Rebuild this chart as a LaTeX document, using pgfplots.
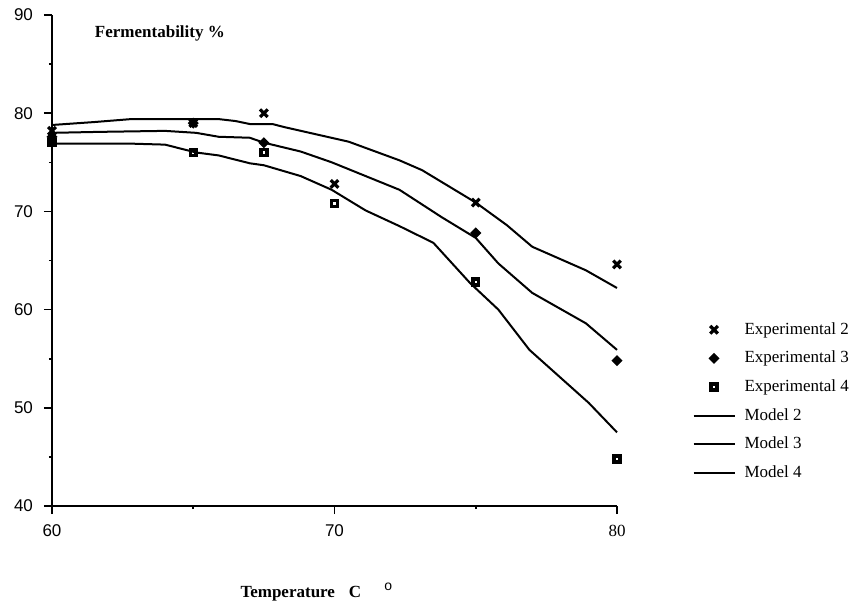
\documentclass[border=0pt]{standalone}
\usepackage{fontspec}
\setmainfont{Liberation Serif}
\setsansfont{Liberation Sans}
\usepackage{pgfplots}
\pgfplotsset{compat=1.18}
\begin{document}
\begin{tikzpicture}
\useasboundingbox (-26pt,-50pt) rectangle (400pt,253pt);
\begin{axis}[
  scale only axis, width=282.5pt, height=245.5pt,
  xmin=60, xmax=80, ymin=40, ymax=90,
  axis lines*=left,
  xtick={60,70,80}, xticklabels={60,70,{\rmfamily 80}},
  minor xtick={65,75},
  ytick={40,50,60,70,80,90}, minor ytick={45,55,65,75,85},
  tick align=outside, major tick length=4pt, minor tick length=1.6pt,
  every tick/.style={black, line width=0.8pt},
  axis line style={line width=0.9pt},
  ticklabel style={font=\sffamily\fontsize{8.5}{10}\selectfont},
  /pgf/number format/assume math mode=true,
  yticklabel style={xshift=-2pt},
  xticklabel style={yshift=-2pt},
  clip=false,
  legend cell align=left,
  legend image code/.code={\draw[mark repeat=2,mark phase=2,#1] plot coordinates {(0pt,0pt) (10.25pt,0pt) (20.5pt,0pt)};},
  legend style={draw=none, fill=none, at={(1.133,0.377)}, anchor=north west,
    font=\fontsize{8.5}{10}\selectfont, inner sep=0pt, row sep=5.8pt,
    nodes={inner sep=0pt, text height=6.5pt, text depth=2pt},
    /tikz/every odd column/.style={column sep=4.5pt}},
]
\addplot[only marks, mark=x, mark size=2.7pt, mark options={line width=1.6pt}] coordinates {
 (60,78.2) (65,79) (67.5,80) (70,72.8) (75,70.9) (80,64.6)};
\addlegendentry{Experimental 2}
\addplot[only marks, mark=square*, mark size=1.65pt, mark options={rotate=45, fill=black, line width=0.6pt}] coordinates {
 (60,77.6) (65,79) (67.5,77) (75,67.8) (80,54.8)};
\addlegendentry{Experimental 3}
\addplot[only marks, mark=square, mark size=1.45pt, mark options={line width=1.8pt}] coordinates {
 (60,77) (65,76) (67.5,76) (70,70.8) (75,62.8) (80,44.8)};
\addlegendentry{Experimental 4}
\addplot[black, line width=1pt] coordinates {
 (60,78.8) (61.5,79.1) (62.8,79.4) (64,79.4) (65.9,79.4) (66.5,79.2) (67,78.9) (67.8,78.9)
 (68.2,78.6) (70.5,77.1) (72.3,75.2) (73.1,74.2) (75,70.9) (76.1,68.6) (77,66.4) (78.9,64.0) (80,62.2)};
\addlegendentry{Model 2}
\addplot[black, line width=1pt] coordinates {
 (60,78.0) (61.7,78.1) (64,78.2) (65.1,78.0) (65.9,77.6) (67,77.5) (67.5,77.0) (68.8,76.1)
 (69.9,75.0) (72.3,72.2) (73.8,69.4) (75,67.3) (75.8,64.7) (77,61.7) (78.9,58.6) (80,55.9)};
\addlegendentry{Model 3}
\addplot[black, line width=1pt] coordinates {
 (60,76.9) (62.8,76.9) (64,76.8) (65.1,76.0) (65.9,75.7) (67,74.9) (67.5,74.7) (68.8,73.6)
 (69.9,72.2) (71.1,70.1) (72.3,68.5) (73.5,66.8) (74.8,62.7) (75.8,60.0) (76.9,55.9) (79,50.5) (80,47.5)};
\addlegendentry{Model 4}
\node[font=\bfseries\fontsize{8.5}{10}\selectfont] at (rel axis cs:0.191,0.963) {Fermentability \%};
\node[anchor=base west, inner sep=0pt, font=\bfseries\fontsize{8.5}{10}\selectfont] at (rel axis cs:0.333,-0.187) {Temperature\hspace{7pt}C};
\node[inner sep=0pt, font=\sffamily\fontsize{7}{8}\selectfont] at (rel axis cs:0.595,-0.165) {o};
\end{axis}
\end{tikzpicture}
\end{document}
